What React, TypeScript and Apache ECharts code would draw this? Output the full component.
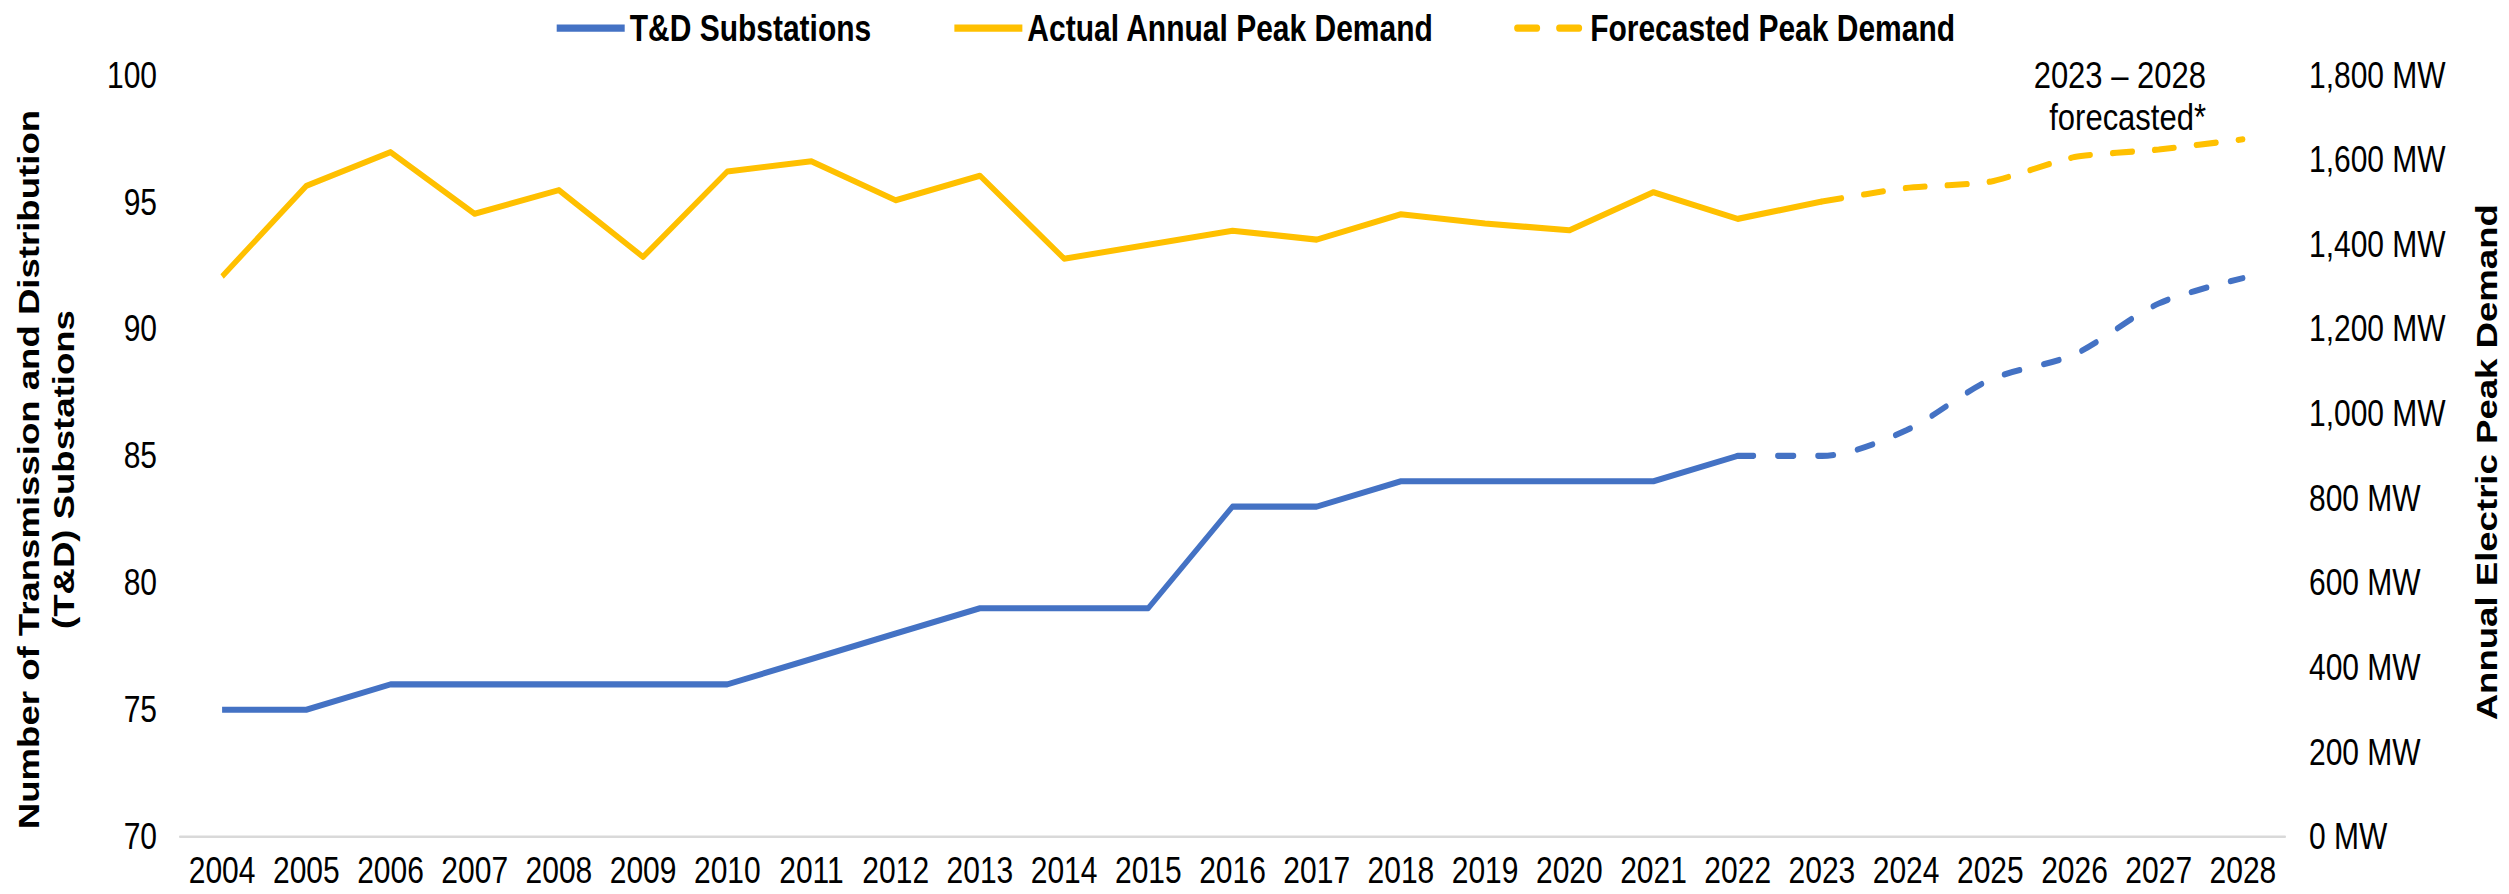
import React, { useEffect, useRef } from "react";
import * as echarts from "echarts";

const years = ["2004","2005","2006","2007","2008","2009","2010","2011","2012","2013","2014","2015","2016","2017","2018","2019","2020","2021","2022","2023","2024","2025","2026","2027","2028"];

// T&D substations (left axis)
const tdActual = [75, 75, 76, 76, 76, 76, 76, 77, 78, 79, 79, 79, 83, 83, 84, 84, 84, 84, 85]; // 2004-2022
const tdForecastStart = "2022";
const tdForecast = [85, 85, 86, 88, 89, 91, 92]; // 2022-2028

// Annual peak demand in MW (right axis)
const peakActual = [1324, 1538, 1618, 1472, 1528, 1370, 1572, 1596, 1504, 1562, 1366, 1399, 1432, 1411, 1471, 1449, 1433, 1523, 1460, 1501]; // 2004-2023
const peakForecastStart = "2023";
const peakForecast = [1501, 1533, 1548, 1606, 1624, 1648]; // 2023-2028

const leftTicks = { min: 70, max: 100, step: 5 };
const rightTicks = { min: 0, max: 1800, step: 200 };

const FONT = '"Liberation Sans", Arial, Helvetica, sans-serif';
const W = 2509;
const H_FULL = 894;
const H = 733;
const S = H_FULL / H;

const BLUE = "#4472C4";
const YELLOW = "#FFC000";

function place(values: number[], startYear: string) {
  const start = years.indexOf(startYear);
  return years.map((_, i) => (i >= start && i - start < values.length ? values[i - start] : null));
}

export default function App() {
  const ref = useRef<HTMLDivElement>(null);
  useEffect(() => {
    document.body.style.margin = "0";
    document.body.style.overflow = "hidden";
    if (!ref.current) return;
    const chart = echarts.init(ref.current, null, { renderer: "svg", width: W, height: H });
    const option: any = {
      animation: false,
      backgroundColor: "#ffffff",
      textStyle: { fontFamily: FONT },
      legend: {
        top: 3,
        left: "center",
        itemGap: 80,
        itemWidth: 68,
        itemHeight: 14,
        data: ["T&D Substations", "Actual Annual Peak Demand", "Forecasted Peak Demand"],
        itemStyle: { opacity: 0, borderWidth: 0 },
        lineStyle: { width: 6 },
        textStyle: { fontSize: 30, fontWeight: "bold", color: "#000", fontFamily: FONT },
      },
      grid: { left: 180, right: 224, top: 61.5, bottom: 47, containLabel: false },
      xAxis: {
        type: "category",
        data: years,
        boundaryGap: true,
        axisTick: { show: false },
        axisLine: { lineStyle: { color: "#D9D9D9", width: 2 } },
        axisLabel: { fontSize: 30, lineHeight: 28, color: "#000", margin: 14, interval: 0, fontFamily: FONT },
        splitLine: { show: false },
      },
      yAxis: [
        {
          type: "value",
          min: leftTicks.min,
          max: leftTicks.max,
          interval: leftTicks.step,
          splitLine: { show: false },
          axisLine: { show: false },
          axisTick: { show: false },
          axisLabel: { fontSize: 30, color: "#000", margin: 23, fontFamily: FONT },
        },
        {
          type: "value",
          position: "right",
          min: rightTicks.min,
          max: rightTicks.max,
          interval: rightTicks.step,
          splitLine: { show: false },
          axisLine: { show: false },
          axisTick: { show: false },
          axisLabel: {
            fontSize: 30,
            color: "#000",
            margin: 24,
            fontFamily: FONT,
            formatter: (v: number) => v.toLocaleString("en-US") + " MW",
          },
        },
      ],
      series: [
        {
          name: "T&D Substations",
          type: "line",
          yAxisIndex: 0,
          data: place(tdActual, "2004"),
          symbol: "none",
          lineStyle: { color: BLUE, width: 5, join: "round" },
          itemStyle: { color: BLUE },
        },
        {
          name: "T&D Substations Forecast",
          type: "line",
          yAxisIndex: 0,
          data: place(tdForecast, tdForecastStart),
          symbol: "none",
          smooth: 0.3,
          lineStyle: { color: BLUE, width: 5, type: [16, 24], cap: "round" },
          itemStyle: { color: BLUE },
        },
        {
          name: "Actual Annual Peak Demand",
          type: "line",
          yAxisIndex: 1,
          data: place(peakActual, "2004"),
          symbol: "none",
          lineStyle: { color: YELLOW, width: 5, join: "round" },
          itemStyle: { color: YELLOW },
        },
        {
          name: "Forecasted Peak Demand",
          type: "line",
          yAxisIndex: 1,
          data: place(peakForecast, peakForecastStart),
          symbol: "none",
          smooth: 0.2,
          lineStyle: { color: YELLOW, width: 5, type: [20, 22], cap: "round" },
          itemStyle: { color: YELLOW },
        },
      ],
      graphic: [
        {
          type: "text",
          x: 46,
          y: 385,
          rotation: Math.PI / 2,
          style: {
            text: "Number of Transmission and Distribution\n(T&D) Substations",
            font: `bold 30px ${FONT}`,
            fill: "#000",
            textAlign: "center",
            textVerticalAlign: "middle",
            lineHeight: 35,
          },
        },
        {
          type: "text",
          x: 2487,
          y: 379,
          rotation: Math.PI / 2,
          style: {
            text: "Annual Electric Peak Demand",
            font: `bold 30px ${FONT}`,
            fill: "#000",
            textAlign: "center",
            textVerticalAlign: "middle",
          },
        },
        {
          type: "text",
          x: 2206,
          y: 61.5,
          style: {
            text: "2023 \u2013 2028",
            font: `31px ${FONT}`,
            fill: "#000",
            textAlign: "right",
            textVerticalAlign: "middle",
          },
        },
        {
          type: "text",
          x: 2206,
          y: 96,
          style: {
            text: "forecasted*",
            font: `31px ${FONT}`,
            fill: "#000",
            textAlign: "right",
            textVerticalAlign: "middle",
          },
        },
      ],
    };
    chart.setOption(option);
    return () => chart.dispose();
  }, []);

  return (
    <div style={{ position: "absolute", left: 0, top: 0, width: W, height: H_FULL, overflow: "hidden", background: "#fff" }}>
      <div
        ref={ref}
        style={{ width: W, height: H, transform: `scaleY(${S})`, transformOrigin: "0 0" }}
      />
    </div>
  );
}
